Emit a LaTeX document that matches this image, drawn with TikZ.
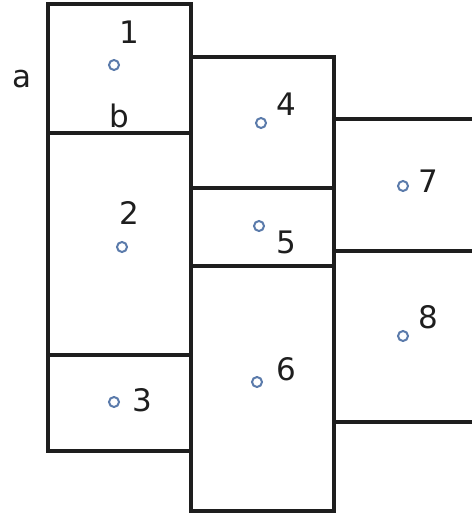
\documentclass[tikz,border=0pt]{standalone}
\usepackage{fontspec}
\setmainfont{DejaVu Sans}
\definecolor{linec}{HTML}{1E1E1E}
\definecolor{dotc}{HTML}{5B7BAB}
\definecolor{txtc}{HTML}{1E1E1E}
\begin{document}
\begin{tikzpicture}[x=1pt,y=-1pt,
  wall/.style={draw=linec,line width=3.2pt,line cap=rect},
  dot/.style={circle,draw=dotc,line width=2pt,minimum size=10pt,inner sep=0pt},
  lbl/.style={anchor=base,inner sep=0pt,text=txtc,font=\fontsize{31}{31}\selectfont}]
\useasboundingbox (0,0) rectangle (471,518);
% column 1
\draw[wall] (48,4) rectangle (191,451);
\draw[wall] (48,133) -- (191,133);
\draw[wall] (48,355) -- (191,355);
% column 2
\draw[wall] (191,57) rectangle (334,511);
\draw[wall] (191,188) -- (334,188);
\draw[wall] (191,266) -- (334,266);
% column 3
\draw[wall] (334,119) -- (471,119);
\draw[wall] (334,251) -- (471,251);
\draw[wall] (334,422) -- (471,422);
% points
\node[dot] (p1) at (114,65) {};
\node[dot] (p2) at (122,247) {};
\node[dot] (p3) at (114,402) {};
\node[dot] (p4) at (261,123) {};
\node[dot] (p5) at (259,226) {};
\node[dot] (p6) at (257,382) {};
\node[dot] (p7) at (403,186) {};
\node[dot] (p8) at (403,336) {};
% labels
\node[lbl] (la) at (22,88) {a};
\node[lbl] (lb) at (119,128) {b};
\node[lbl] (l1) at (129,44) {1};
\node[lbl] (l2) at (129,225) {2};
\node[lbl] (l3) at (142,411) {3};
\node[lbl] (l4) at (286,116) {4};
\node[lbl] (l5) at (286,253) {5};
\node[lbl] (l6) at (286,380) {6};
\node[lbl] (l7) at (428,193) {7};
\node[lbl] (l8) at (428,328) {8};
\end{tikzpicture}
\end{document}
